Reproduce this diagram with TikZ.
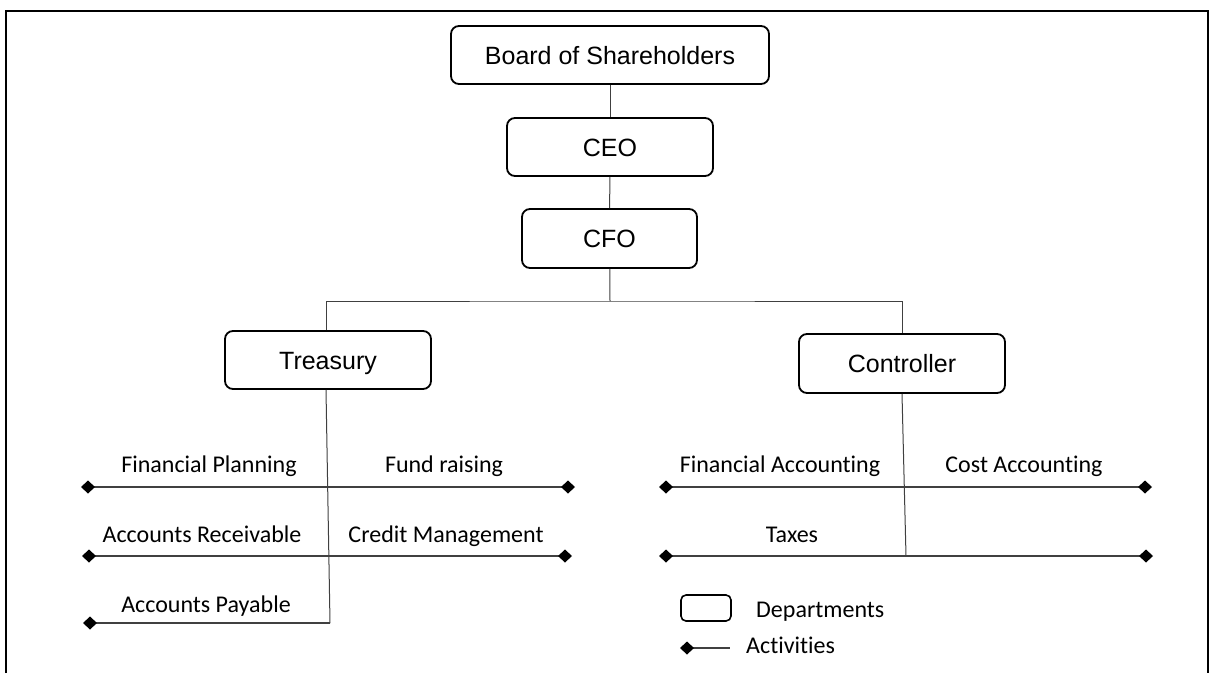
\documentclass[tikz,border=0pt]{standalone}
\usepackage{fontspec}
\setmainfont{Liberation Sans}
\newfontfamily\actfont[Ligatures=NoCommon]{Carlito}
\usetikzlibrary{arrows.meta}

\begin{document}
\begin{tikzpicture}[x=1pt,y=-1pt,
        dept/.style={draw,line width=1.8pt,rounded corners=8pt,inner sep=0pt,text height=18pt,text depth=0pt,font=\fontsize{25}{30}\selectfont},
        link/.style={draw=black!75,line width=1pt},
        activity/.style={draw=black!75,line width=1.4pt},
        dtip/.tip={Diamond[length=14pt,width=13pt,color=black]},
        actlabel/.style={anchor=base,inner sep=0pt,font=\actfont\fontsize{24}{28}\selectfont}]
        \useasboundingbox (0,0) rectangle (1210,673);
        % frame
        \draw[line width=2pt] (6,673) -- (6,11) -- (1208,11) -- (1208,673);
        % departments
        \node[dept,minimum width=318pt,minimum height=58pt] (board) at (610,55) {Board of Shareholders};
        \node[dept,minimum width=206pt,minimum height=58pt] (ceo) at (610,147) {CEO};
        \node[dept,minimum width=175pt,minimum height=59pt] (cfo) at (609.5,238.5) {CFO};
        \node[dept,minimum width=206pt,minimum height=58pt] (treasury) at (328,360) {Treasury};
        \node[dept,minimum width=206pt,minimum height=59pt] (controller) at (902,363.5) {Controller};
        \coordinate (bus) at (610,301);
        \draw[link] (board) -- (ceo);
        \draw[link] (ceo) -- (cfo);
        \draw[link] (cfo) -- (bus);
        \draw[link] (treasury.north -| 326,0) |- (bus) -| (controller.north);
        % treasury activities
        \coordinate (tr-end) at (330,623);
        \draw[link] (treasury.south -| 326,0) -- (tr-end);
        \coordinate (fp-l) at (81,487);
        \coordinate (fr-r) at (575,487);
        \coordinate (ar-l) at (82,556);
        \coordinate (cm-r) at (572,556);
        \coordinate (ap-l) at (83,623);
        \draw[activity,dtip-dtip] (fp-l) -- (fr-r);
        \draw[activity,dtip-dtip] (ar-l) -- (cm-r);
        \draw[activity,-dtip] (tr-end) -- (ap-l);
        \node[actlabel] (fp) at (209,472) {Financial Planning};
        \node[actlabel] (fr) at (444,472) {Fund raising};
        \node[actlabel] (ar) at (202,542) {Accounts Receivable};
        \node[actlabel] (cm) at (446,542) {Credit Management};
        \node[actlabel] (ap) at (206,612) {Accounts Payable};
        % controller activities
        \coordinate (co-end) at (906,556);
        \draw[link] (controller.south) -- (co-end);
        \coordinate (fa-l) at (659,487);
        \coordinate (ca-r) at (1152,487);
        \coordinate (tx-l) at (659,556);
        \coordinate (tx-r) at (1153,556);
        \draw[activity,dtip-dtip] (fa-l) -- (ca-r);
        \draw[activity,dtip-dtip] (tx-l) -- (tx-r);
        \node[actlabel] (fa) at (780,472) {Financial Accounting};
        \node[actlabel] (ca) at (1024,472) {Cost Accounting};
        \node[actlabel] (tx) at (792,542) {Taxes};
        % legend
        \node[dept,line width=1.6pt,rounded corners=5pt,minimum width=50pt,minimum height=26pt] (leg-box) at (706,608) {};
        \node[actlabel,anchor=base west] (leg-dept) at (756,617) {Departments};
        \coordinate (leg-l) at (680,648);
        \coordinate (leg-r) at (730,648);
        \draw[activity,dtip-] (leg-l) -- (leg-r);
        \node[actlabel,anchor=base west] (leg-act) at (746,653) {Activities};
\end{tikzpicture}
\end{document}
